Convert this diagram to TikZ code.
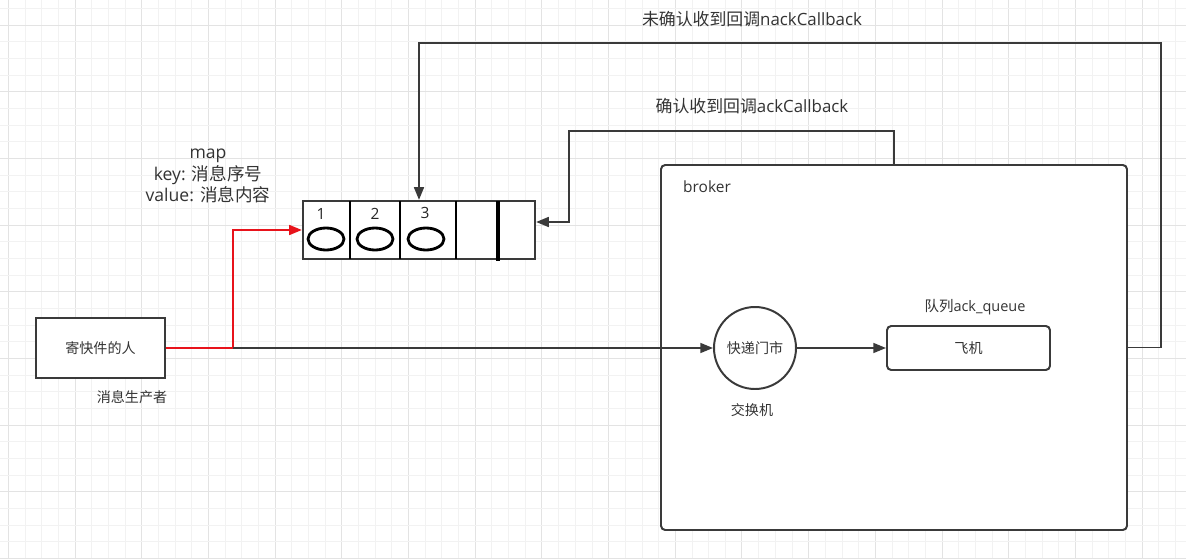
\documentclass[tikz,border=0pt]{standalone}
\usepackage{fontspec}
\setmainfont{Open Sans}
\newfontfamily\cjk{Noto Sans CJK SC}
\usetikzlibrary{arrows.meta,positioning}
\definecolor{ink}{HTML}{333333}
\definecolor{wire}{HTML}{3A3A3A}
\definecolor{redwire}{HTML}{E8131B}
\def\px{0.025cm}
\tikzset{
  gridminor/.style={line width=.4pt,black!5},
  gridmajor/.style={line width=.5pt,black!11},
  txt/.style={text=ink,font=\fontsize{10}{15}\selectfont,inner sep=0pt},
  bigtxt/.style={txt,font=\fontsize{12}{15}\selectfont},
  box/.style={draw=wire,line width=1.4pt,fill=white,inner sep=0pt,
    text=ink,font=\fontsize{10}{15}\selectfont},
  flow/.style={draw=wire,line width=1.4pt,-{Triangle[length=9pt,width=7pt]}},
  redflow/.style={draw=redwire,line width=1.4pt,-{Triangle[length=9pt,width=7pt]}},
  slot/.style={draw=black,line width=2pt}
}
\begin{document}
\begin{tikzpicture}[x=0.025cm,y=-0.025cm]
  \useasboundingbox (0,0) rectangle (1186,559);
  \fill[white] (0,0) rectangle (1186,559);
  \foreach \i in {0,...,71} {
    \pgfmathsetmacro\gx{8.33+16.67*\i}
    \pgfmathtruncatemacro\gm{mod(\i,4)}
    \ifnum\gm=0 \draw[gridmajor] (\gx,0) -- (\gx,559);
    \else \draw[gridminor] (\gx,0) -- (\gx,559); \fi
  }
  \foreach \j in {0,...,33} {
    \pgfmathsetmacro\gy{8.33+16.67*\j}
    \pgfmathtruncatemacro\gm{mod(\j,4)}
    \ifnum\gm=1 \draw[gridmajor] (0,\gy) -- (1186,\gy);
    \else \draw[gridminor] (0,\gy) -- (1186,\gy); \fi
  }
  \node[box,rounded corners=3pt,minimum width=466*\px,minimum height=365*\px] (broker) at (894,347.5) {};
  \node[txt,font=\fontsize{11}{13}\selectfont] (brokertxt) at (707,187) {broker};
  \node[box,minimum width=129*\px,minimum height=60*\px] (sender) at (100.5,348) {\cjk 寄快件的人};
  \node[txt] (producer) at (132,397) {\cjk 消息生产者};
  \node[box,circle,minimum size=82*\px] (ex) at (755,348) {\cjk 快递门市};
  \node[txt] (extxt) at (752,410) {\cjk 交换机};
  \node[box,rounded corners=3pt,minimum width=163*\px,minimum height=44*\px] (q) at (968.5,348) {\cjk 飞机};
  \node[txt,font=\fontsize{10.3}{13}\selectfont] (qtxt) at (975,307) {{\cjk 队列}ack\_queue};
  \node[box,line width=1.6pt,minimum width=232*\px,minimum height=58*\px] (mapq) at (419,230) {};
  \draw[slot] (350,201) -- (350,259);
  \draw[slot] (400,201) -- (400,259);
  \draw[slot] (456,201) -- (456,259);
  \draw[slot,line width=2.2pt] (498,201) -- (498,261);
  \draw[slot] (326,239) ellipse [x radius=18,y radius=11];
  \draw[slot] (375,239) ellipse [x radius=18,y radius=11];
  \draw[slot] (426,239) ellipse [x radius=18,y radius=11];
  \node[txt,text=black!85,font=\fontsize{11}{13}\selectfont] (n1) at (321,214) {1};
  \node[txt,text=black!85,font=\fontsize{11}{13}\selectfont] (n2) at (375,214) {2};
  \node[txt,text=black!85,font=\fontsize{11}{13}\selectfont] (n3) at (425,213) {3};
  \node[txt,align=center,font=\fontsize{12.5}{15}\selectfont] (maptxt) at (208,176) {map\\key: {\cjk 消息序号}\\value: {\cjk 消息内容}};
  \coordinate (split) at (233,348);
  \draw[redflow] (sender.east) -- (split) |- (mapq.west);
  \draw[flow] (split) -- (ex.west);
  \draw[flow] (ex.east) -- (q.west);
  \coordinate (nackR) at (1161,43);
  \coordinate (nackL) at (419,43);
  \draw[flow] (broker.east) -| (nackR) -- (nackL) -- (nackL |- mapq.north);
  \node[bigtxt] (nacktxt) at (752,19) {{\cjk 未确认收到回调}nackCallback};
  \coordinate (ackR) at (894,131);
  \coordinate (ackL) at (569,222);
  \draw[flow] (broker.north) -- (ackR) -| (ackL) -- (ackL -| mapq.east);
  \node[bigtxt] (acktxt) at (752,106) {{\cjk 确认收到回调}ackCallback};
\end{tikzpicture}
\end{document}
